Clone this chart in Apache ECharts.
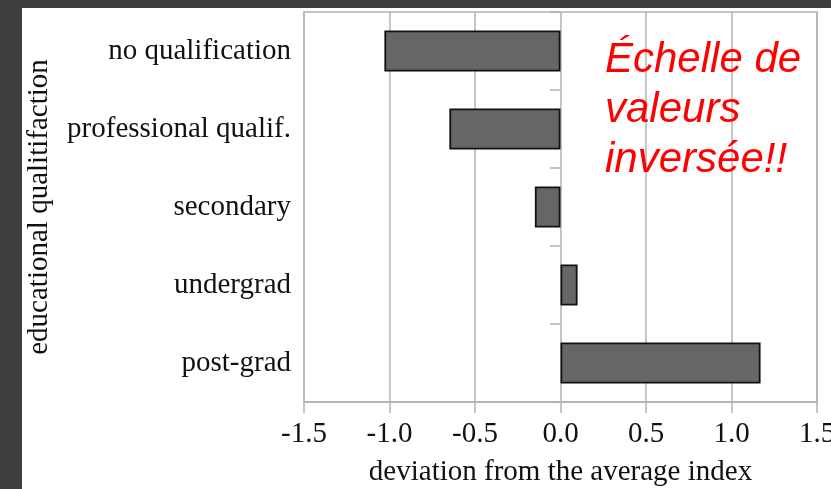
<!DOCTYPE html>
<html>
<head>
<meta charset="utf-8">
<script src="https://cdn.jsdelivr.net/npm/echarts@6/dist/echarts.min.js"></script>
<style>
  html, body { margin: 0; padding: 0; background: #3f3f3f; }
  #bar-chart { position: absolute; left: 22px; top: 8px; width: 809px; height: 481px; background: #fff; }
</style>
</head>
<body>
<div id="bar-chart"></div>
<script>
// categories top to bottom
var categories = ['no qualification', 'professional qualif.', 'secondary', 'undergrad', 'post-grad']
// deviation from the average index
var deviation = [-1.03, -0.65, -0.15, 0.10, 1.17]
var xTicks = [-1.5, -1.0, -0.5, 0.0, 0.5, 1.0, 1.5]

var serif = '"Liberation Serif", "DejaVu Serif", serif'
var gridGray = '#b3b3b3'

var chart = echarts.init(document.getElementById('bar-chart'))
var option = {
  animation: false,
  grid: {
    left: 282,
    right: 14,
    top: 4,
    bottom: 87,
    outerBoundsMode: 'none',
    containLabel: false,
    show: true,
    borderColor: gridGray,
    borderWidth: 1.5
  },
  xAxis: {
    type: 'value',
    min: xTicks[0],
    max: xTicks[xTicks.length - 1],
    interval: 0.5,
    name: 'deviation from the average index',
    nameLocation: 'middle',
    nameGap: 56,
    nameTextStyle: { fontFamily: serif, fontSize: 29, color: '#111' },
    axisLine: { show: true, lineStyle: { color: gridGray, width: 1.5 } },
    axisTick: { show: true, length: 11, lineStyle: { color: gridGray, width: 1.5 } },
    axisLabel: {
      fontFamily: serif,
      fontSize: 29,
      color: '#111',
      margin: 18,
      hideOverlap: false,
      formatter: function (v) { return v.toFixed(1) }
    },
    splitLine: { show: true, lineStyle: { color: gridGray, width: 1.5 } }
  },
  yAxis: [
    {
      type: 'category',
      inverse: true,
      data: categories,
      name: 'educational qualitifaction',
      nameLocation: 'middle',
      nameRotate: 90,
      nameGap: 250,
      nameTextStyle: { fontFamily: serif, fontSize: 29, color: '#111' },
      axisLine: { show: false },
      axisTick: { show: false },
      axisLabel: { fontFamily: serif, fontSize: 29, color: '#111', margin: 13, padding: [6, 0, 0, 0] },
      splitLine: { show: false }
    },
    {
      // short ticks along the zero line
      type: 'category',
      inverse: true,
      data: categories,
      position: 'left',
      offset: -256,
      axisLine: { show: false },
      axisTick: { show: true, length: 10, lineStyle: { color: gridGray, width: 1.5 } },
      axisLabel: { show: false },
      splitLine: { show: false }
    }
  ],
  series: [
    {
      type: 'bar',
      yAxisIndex: 0,
      barWidth: 41,
      data: deviation,
      itemStyle: { color: '#666666', borderColor: '#111', borderWidth: 1.8 }
    }
  ],
  graphic: [
    {
      type: 'text',
      left: 583,
      top: 27,
      z: 10,
      style: {
        text: 'Échelle de\nvaleurs\ninversée!!',
        font: 'italic 42px "Liberation Sans", Arial, sans-serif',
        lineHeight: 50,
        fill: '#ff0000'
      }
    }
  ]
}
chart.setOption(option)
</script>
</body>
</html>
